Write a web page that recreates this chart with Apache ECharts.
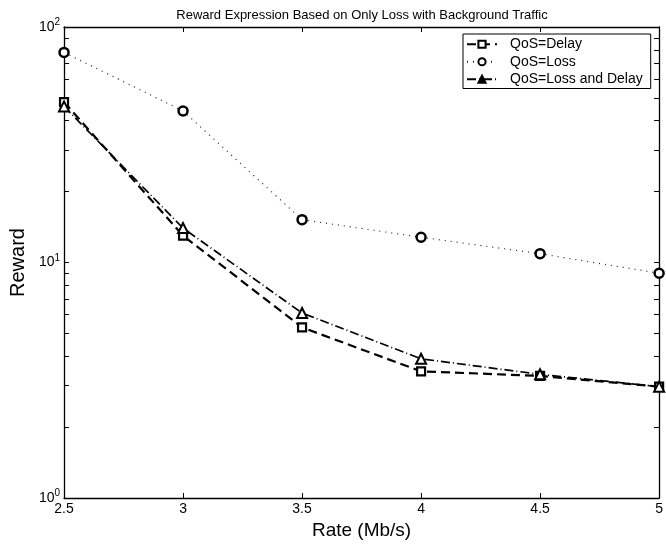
<!DOCTYPE html>
<html><head><meta charset="utf-8">
<script src="https://cdn.jsdelivr.net/npm/echarts@6/dist/echarts.min.js"></script>
<style>html,body{margin:0;padding:0;background:#fff}#c{width:666px;height:545px}</style>
</head><body><div id="c"></div>
<script>
const rates = [2.5, 3, 3.5, 4, 4.5, 5];
const delayVals = [48, 13, 5.3, 3.45, 3.3, 2.97];
const lossVals = [78, 44, 15.2, 12.8, 10.9, 9.0];
const lossDelayVals = [46, 14, 6.1, 3.9, 3.35, 2.97];
const yTickVals = [1,2,3,4,5,6,7,8,9,10,20,30,40,50,60,70,80,90,100];
const yLabelVals = [1, 10, 100];
const xTicks = [2.5, 3, 3.5, 4, 4.5, 5];

const pair = (xs, ys) => xs.map((x, i) => [x, ys[i]]);
const font = 'Liberation Sans, Arial, sans-serif';
const chart = echarts.init(document.getElementById('c'));
const axisLineStyle = {show: true, lineStyle: {color: '#000', width: 1.3}};
const tickStyle = {inside: true, length: 5, lineStyle: {color: '#000', width: 1}};
const supFmt = v => { const e = Math.round(Math.log10(v)); return '{b|10}{s|' + e + '}'; };
const rich = {b: {fontSize: 14, fontFamily: font, color: '#000'}, s: {fontSize: 10, fontFamily: font, color: '#000', verticalAlign: 'top', padding: [0,0,9,0]}};

chart.setOption({
  animation: false,
  backgroundColor: '#fff',
  title: {text: 'Reward Expression Based on Only Loss with Background Traffic', left: 362, textAlign: 'center', top: 9, padding: 0,
    textStyle: {fontSize: 13, fontWeight: 'normal', fontFamily: font, color: '#000'}},
  grid: {left: 61, right: 2, top: 27, bottom: 43},
  legend: {
    orient: 'vertical', left: 463, top: 34, itemWidth: 30, itemHeight: 9, itemGap: 3,
    borderColor: '#000', borderWidth: 1, backgroundColor: '#fff', padding: [3, 8, 2, 3], borderRadius: 0,
    textStyle: {fontSize: 14, lineHeight: 14.5, fontFamily: font, color: '#000', padding: [0, 0, 0, 8]},
    data: [
      {name: 'QoS=Delay'},
      {name: 'QoS=Loss'},
      {name: 'QoS=Loss and Delay', itemStyle: {color: '#000'}}
    ]
  },
  xAxis: [
    {type: 'value', min: 2.5, max: 5, interval: 0.5, position: 'bottom', name: 'Rate (Mb/s)', nameLocation: 'middle', nameGap: 23,
      nameTextStyle: {fontSize: 19, fontFamily: font, color: '#000'},
      axisLine: axisLineStyle, axisTick: tickStyle,
      axisLabel: {fontSize: 14, fontFamily: font, color: '#000', margin: 4, formatter: v => String(v), customValues: xTicks},
      splitLine: {show: false}},
    {type: 'value', min: 2.5, max: 5, interval: 0.5, position: 'top',
      axisLine: axisLineStyle, axisTick: tickStyle,
      axisLabel: {show: false}, splitLine: {show: false}}
  ],
  yAxis: [
    {type: 'log', logBase: 10, min: 1, max: 100, position: 'left', name: 'Reward', nameLocation: 'middle', nameGap: 24,
      nameTextStyle: {fontSize: 20, fontFamily: font, color: '#000'},
      axisLine: axisLineStyle,
      axisTick: Object.assign({customValues: yTickVals}, tickStyle),
      axisLabel: {customValues: yLabelVals, formatter: supFmt, rich: rich, margin: 4},
      splitLine: {show: false}},
    {type: 'log', logBase: 10, min: 1, max: 100, position: 'right',
      axisLine: axisLineStyle,
      axisTick: Object.assign({customValues: yTickVals}, tickStyle),
      axisLabel: {show: false}, splitLine: {show: false}}
  ],
  series: [
    {name: 'QoS=Delay', type: 'line', data: pair(rates, delayVals), symbol: 'rect', symbolSize: 8,
      lineStyle: {color: '#000', width: 2.2, type: [9, 5]},
      itemStyle: {color: '#fff', borderColor: '#000', borderWidth: 2.2}, z: 3},
    {name: 'QoS=Loss', type: 'line', data: pair(rates, lossVals), symbol: 'circle', symbolSize: 9,
      lineStyle: {color: '#222', width: 1.2, type: [1, 5]},
      itemStyle: {color: '#fff', borderColor: '#000', borderWidth: 2.5}, z: 3},
    {name: 'QoS=Loss and Delay', type: 'line', data: pair(rates, lossDelayVals), symbol: 'triangle', symbolSize: 10,
      lineStyle: {color: '#000', width: 1.7, type: [9, 3, 1, 3]},
      itemStyle: {color: '#fff', borderColor: '#000', borderWidth: 2}, z: 3}
  ]
});
</script></body></html>
